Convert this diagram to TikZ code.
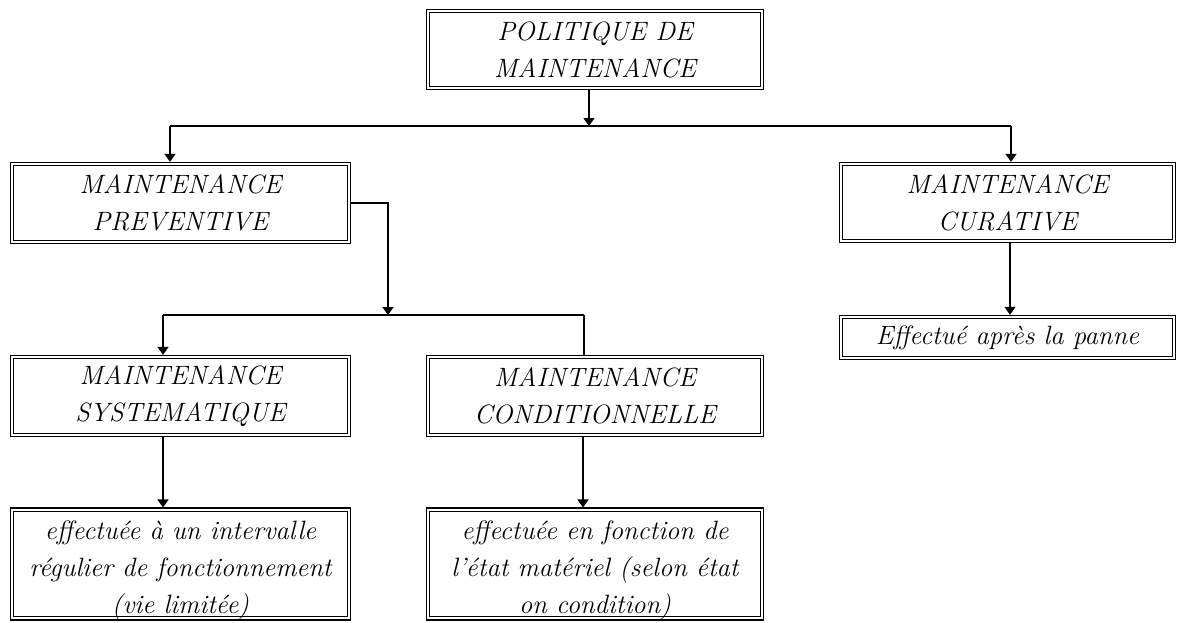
\documentclass[tikz,border=0pt]{standalone}
\usepackage{fontspec}
\usetikzlibrary{arrows.meta}
\tikzset{
  box/.style={draw, line width=1.4pt, inner sep=0pt, align=center,
    font=\fontsize{26.5}{37}\selectfont\itshape,
    path picture={\draw[line width=0.8pt]
      ([shift={(3pt,3pt)}]path picture bounding box.south west) rectangle
      ([shift={(-3pt,-3pt)}]path picture bounding box.north east);}},
  conn/.style={line width=1.4pt},
  arr/.style={conn, -{Triangle[width=11pt,length=8pt]}},
}
\begin{document}
\begin{tikzpicture}[x=1pt,y=-1pt]
\useasboundingbox (0,0) rectangle (1178,622);
% boxes
\node[box, minimum width=337pt, minimum height=80pt] (pol) at (595,49.5) {POLITIQUE DE\\MAINTENANCE};
\node[box, minimum width=340pt, minimum height=81pt] (prev) at (180.5,203) {MAINTENANCE\\PREVENTIVE};
\node[box, minimum width=336pt, minimum height=80pt] (cur) at (1007.5,202.5) {MAINTENANCE\\CURATIVE};
\node[box, minimum width=336pt, minimum height=44pt] (eff) at (1007.5,337.5) {Effectué après la panne};
\node[box, minimum width=340pt, minimum height=81pt] (sys) at (180.5,396) {MAINTENANCE\\SYSTEMATIQUE};
\node[box, minimum width=337pt, minimum height=81pt] (cond) at (595,396) {MAINTENANCE\\CONDITIONNELLE};
\node[box, minimum width=340pt, minimum height=111pt] (sysd) at (180.5,564) {\rule{0pt}{31pt}effectuée à un intervalle\\régulier de fonctionnement\\(vie limitée)};
\node[box, minimum width=337pt, minimum height=111pt] (condd) at (595,564) {\rule{0pt}{31pt}effectuée en fonction de\\l'état matériel (selon état\\on condition)};
% junction coordinates
\coordinate (j1) at (589,126);
\coordinate (l1) at (170,126);
\coordinate (r1) at (1011,126);
\coordinate (j2) at (388,315);
\coordinate (l2) at (163,315);
\coordinate (r2) at (584,315);
\coordinate (xc) at (1010,0);
\coordinate (xs) at (163,0);
\coordinate (xd) at (583,0);
% connectors
\draw[arr] (pol.south -| j1) -- (j1);
\draw[conn] (l1) -- (r1);
\draw[arr] (l1) -- (l1 |- prev.north);
\draw[arr] (r1) -- (r1 |- cur.north);
\draw[arr] (cur.south -| xc) -- (eff.north -| xc);
\draw[arr] (prev.east) -| (j2);
\draw[conn] (l2) -- (r2);
\draw[arr] (l2) -- (l2 |- sys.north);
\draw[conn] (r2) -- (r2 |- cond.north);
\draw[arr] (sys.south -| xs) -- (sysd.north -| xs);
\draw[arr] (cond.south -| xd) -- (condd.north -| xd);
\end{tikzpicture}
\end{document}
